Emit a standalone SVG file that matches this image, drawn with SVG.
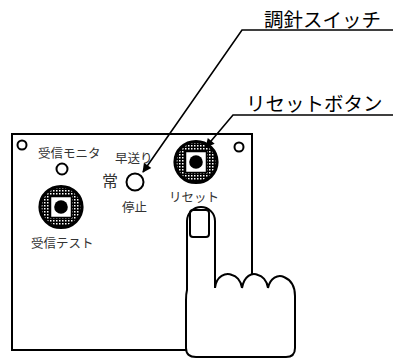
<svg xmlns="http://www.w3.org/2000/svg" width="393" height="360" viewBox="0 0 393 360">
  <style>
    .ln { fill: none; stroke: #000; stroke-width: 2; }
    .wf { fill: #fff; stroke: #000; stroke-width: 2; }
    .lbl { font-family: "Noto Sans CJK JP", "DejaVu Sans", sans-serif; font-size: 12.5px; fill: #333; }
    .big { font-family: "Noto Sans CJK JP", "DejaVu Sans", sans-serif; font-size: 19.5px; fill: #000; }
    .lead { fill: none; stroke: #000; stroke-width: 1.6; }
  </style>
  <defs>
    <pattern id="dots" width="3" height="3" patternUnits="userSpaceOnUse">
      <rect width="3" height="3" fill="#000"/>
      <rect x="1" y="1" width="1.5" height="1.5" fill="#fff"/>
    </pattern>
    <marker id="arr" viewBox="0 0 10 10" refX="9" refY="5" markerWidth="11" markerHeight="9" orient="auto" markerUnits="userSpaceOnUse">
      <path d="M0,0 L10,5 L0,10 z" fill="#000"/>
    </marker>
    <!-- textured push button -->
    <g id="pushbtn">
      <ellipse cx="0" cy="0" rx="21" ry="20.5" fill="url(#dots)" stroke="#000" stroke-width="3.2"/>
      <rect x="-10.5" y="-10.5" width="21" height="21" fill="#fff" stroke="#000" stroke-width="1.5"/>
      <circle cx="0" cy="0" r="6.8" fill="#000"/>
    </g>
  </defs>

  <!-- panel -->
  <g id="panel">
    <rect x="12" y="134" width="240" height="216" class="wf"/>
    <circle cx="22" cy="145" r="4.5" class="ln" stroke-width="1.5"/>
    <circle cx="239" cy="147" r="4.5" class="ln" stroke-width="1.5"/>
  </g>

  <g id="rx-monitor">
    <text x="38" y="158" class="lbl">受信モニタ</text>
    <circle cx="62" cy="169" r="5.5" class="ln" stroke-width="1.5"/>
  </g>

  <g id="rx-test">
    <use href="#pushbtn" x="61" y="207"/>
    <text x="31" y="248" class="lbl">受信テスト</text>
  </g>

  <g id="mode-switch">
    <text x="115" y="163" class="lbl">早送り</text>
    <text x="102" y="187" class="lbl" style="font-size:16px">常</text>
    <circle cx="135" cy="182" r="8.5" class="ln"/>
    <text x="122" y="212" class="lbl">停止</text>
  </g>

  <g id="reset">
    <use href="#pushbtn" x="196" y="162"/>
    <text x="169" y="202" class="lbl">リセット</text>
  </g>

  <!-- callout leaders -->
  <g id="connectors">
    <polyline points="393,30 242,30 143,172" class="lead" marker-end="url(#arr)"/>
    <polyline points="393,115 233,115 206,147" class="lead" marker-end="url(#arr)"/>
  </g>

  <g id="label-switch"><text x="264" y="27" class="big">調針スイッチ</text></g>
  <g id="label-reset"><text x="246" y="111" class="big">リセットボタン</text></g>

  <!-- pointing hand -->
  <g id="hand">
    <path class="wf" d="M187,221 A14,14 0 0 1 215,221 L215,288
      C216,276 226,272 232,275 C236,276 241,280 242,288
      C244,276 252,272 258,275 C262,276 267,280 268,288
      C270,278 278,274 284,277 C291,280 295,286 295,296
      L295,348 Q295,357 286,357 L196,357 Q186,357 186,348
      L186,300 Q186,294 187,290 Z"/>
    <rect x="190" y="210" width="19" height="27" rx="3" class="ln" stroke-width="1.5"/>
  </g>
</svg>
